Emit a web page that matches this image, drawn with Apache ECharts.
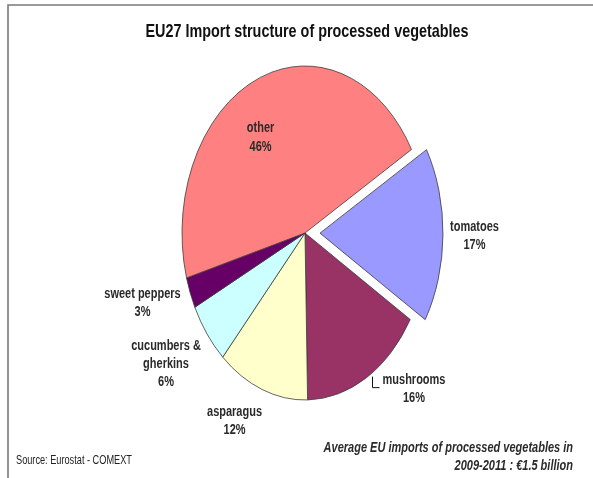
<!DOCTYPE html>
<html>
<head>
<meta charset="utf-8">
<title>EU27 Import structure of processed vegetables</title>
<script src="https://cdn.jsdelivr.net/npm/echarts@6/dist/echarts.min.js"></script>
<style>
  html, body { margin: 0; padding: 0; background: #ffffff; }
  #chart { width: 593px; height: 478px; }
</style>
</head>
<body>
<div id="chart"></div>
<script>
// Shares of EU27 processed-vegetable imports (average 2009-2011), clockwise
const categories = ['tomatoes', 'mushrooms', 'asparagus', 'cucumbers &\ngherkins', 'sweet peppers', 'other'];
const shares = [17, 16, 12, 6, 3, 46];

// Slice fills, in the same order as the categories
const sliceColors = ['#9999FF', '#993366', '#FFFFCC', '#CCFFFF', '#660066', '#FF8080'];

// Pie geometry: an upright ellipse
const CX = 305, CY = 233, RX = 123, RY = 167;
const START_ANGLE = -Math.PI / 6;          // first slice starts 30° above 3 o'clock
const EXPLODE = [15, 0, 0, 0, 0, 0];       // pull-out distance per slice, px
const TEXT_STRETCH = 1.3;                  // tall, condensed lettering
const FONT = "'Liberation Sans', Arial, Helvetica, sans-serif";

// Label offsets from the slice's outer edge point at its mid-angle
const labelPlacement = [
  { dx: 31.5, dy: 1.3 },
  { dx: 47.5, dy: 11.4, leader: [[6, -1], [6, 10], [13, 10]] },
  { dx: -27.6, dy: 31.5 },
  { dx: -41, dy: 30 },
  { dx: -47.7, dy: 10 },
  { dx: 3.2, dy: 58.5 }
];

const total = shares.reduce((a, b) => a + b, 0);

function renderSlice(params, api) {
  const i = params.dataIndex;
  const value = api.value(0);
  let before = 0;
  for (let k = 0; k < i; k++) before += shares[k];
  const a0 = START_ANGLE + before / total * Math.PI * 2;
  const a1 = a0 + value / total * Math.PI * 2;
  const mid = (a0 + a1) / 2;
  const ox = EXPLODE[i] * Math.cos(mid);
  const oy = EXPLODE[i] * Math.sin(mid);

  const children = [{
    type: 'sector',
    shape: { cx: CX, cy: CY, r0: 0, r: RY, startAngle: a0, endAngle: a1, clockwise: true },
    originX: CX, originY: CY, scaleX: RX / RY, x: ox, y: oy,
    style: { fill: sliceColors[i], stroke: '#3a3a3a', lineWidth: 0.9, strokeNoScale: true }
  }];

  const ex = CX + ox + RX * Math.cos(mid);
  const ey = CY + oy + RY * Math.sin(mid);
  const lp = labelPlacement[i];

  children.push({
    type: 'text',
    x: ex + lp.dx, y: ey + lp.dy, scaleY: TEXT_STRETCH,
    style: {
      text: categories[i] + '\n' + value + '%',
      align: 'center', verticalAlign: 'middle',
      font: 'bold 11px ' + FONT, lineHeight: 14,
      fill: '#2a2a2a'
    }
  });

  if (lp.leader) {
    children.push({
      type: 'polyline',
      shape: { points: lp.leader.map(p => [ex + p[0], ey + p[1]]) },
      style: { stroke: '#111', lineWidth: 1, fill: null }
    });
  }
  return { type: 'group', children: children };
}

const chart = echarts.init(document.getElementById('chart'), null, { renderer: 'canvas' });
chart.setOption({
  animation: false,
  backgroundColor: '#ffffff',
  graphic: [
    { type: 'rect', shape: { x: 8, y: 5, width: 620, height: 520 },
      style: { fill: null, stroke: '#7a7a7a', lineWidth: 1.6 } },
    { type: 'text', x: 307, y: 32, scaleY: TEXT_STRETCH,
      style: { text: 'EU27 Import structure of processed vegetables', align: 'center', verticalAlign: 'middle',
               font: 'bold 14.4px ' + FONT, fill: '#111' } },
    { type: 'text', x: 573, y: 457, scaleY: TEXT_STRETCH,
      style: { text: 'Average EU imports of processed vegetables in\n2009-2011 : €1.5 billion',
               align: 'right', verticalAlign: 'middle', lineHeight: 14.5,
               font: 'italic bold 11px ' + FONT, fill: '#2a2a2a' } },
    { type: 'text', x: 16, y: 461, scaleY: TEXT_STRETCH,
      style: { text: 'Source: Eurostat - COMEXT', align: 'left', verticalAlign: 'middle',
               font: '9.2px ' + FONT, fill: '#222' } }
  ],
  series: [{
    type: 'custom',
    coordinateSystem: 'none',
    name: 'Import share',
    data: shares.map((v, i) => ({ name: categories[i], value: [v] })),
    renderItem: renderSlice
  }]
});
</script>
</body>
</html>
